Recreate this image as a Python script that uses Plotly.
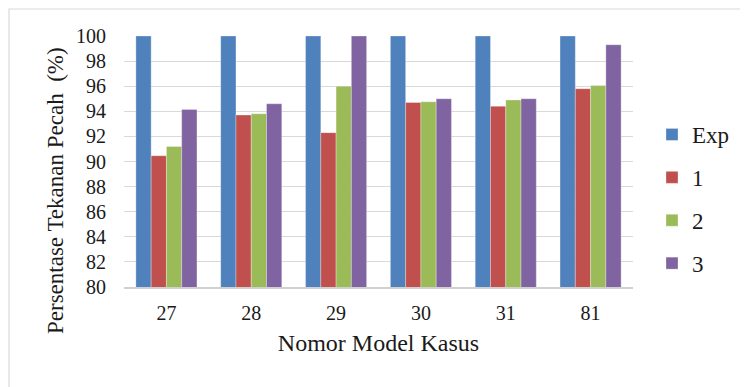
import plotly.graph_objects as go

categories = ["27", "28", "29", "30", "31", "81"]
series_names = ["Exp", "1", "2", "3"]
exp_vals = [100, 100, 100, 100, 100, 100]
s1_vals = [90.46, 93.7, 92.3, 94.7, 94.4, 95.8]
s2_vals = [91.2, 93.8, 96.0, 94.76, 94.9, 96.05]
s3_vals = [94.15, 94.6, 100, 95.0, 95.0, 99.3]
colors = ["#4F81BD", "#C0504D", "#9BBB59", "#8064A2"]
y_ticks = list(range(80, 101, 2))
x_title = "Nomor Model Kasus"
y_title = "Persentase Tekanan Pecah  (%)"

FONT = "Liberation Serif, Times New Roman, serif"

fig = go.Figure()
for name, vals, col in zip(series_names, [exp_vals, s1_vals, s2_vals, s3_vals], colors):
    fig.add_trace(go.Bar(
        x=categories, y=vals, name=name, legendgroup=name,
        marker=dict(color=col, line=dict(color="rgba(255,255,255,0.5)", width=0.6)),
    ))

# page body has an 8px margin; figure coords = reference coords - 8
OFF = 8
W, H = 748 - OFF, 387 - OFF
L, R, T, B = 124 - OFF, 115, 36 - OFF, 100
pw = W - L - R
ph = H - T - B
y_bot = 287 - OFF  # plot bottom in figure coords

def px_x(x):
    return (x - OFF - L) / pw

def px_y(y):
    return (y_bot - (y - OFF)) / ph

fig.update_layout(
    width=W, height=H,
    margin=dict(l=L, r=R, t=T, b=B),
    paper_bgcolor="white", plot_bgcolor="white",
    barmode="group", bargap=0.28, bargroupgap=0,
    font=dict(family=FONT, color="#1a1a1a", size=20),
    showlegend=True,
    legend=dict(
        x=px_x(652), xanchor="left",
        y=px_y(199), yanchor="middle",
        font=dict(family=FONT, size=23, color="#1a1a1a"),
        tracegroupgap=10, traceorder="grouped",
        bgcolor="rgba(0,0,0,0)",
    ),
    xaxis=dict(
        type="category", automargin=False,
        title=dict(text=x_title, font=dict(family=FONT, size=24), standoff=11),
        tickfont=dict(family=FONT, size=20),
        showline=True, linecolor="#D0D0D0", linewidth=1.5,
        ticks="outside", ticklen=7, tickcolor="rgba(0,0,0,0)", showgrid=False,
    ),
    yaxis=dict(
        range=[80, 100], tickvals=y_ticks, automargin=False,
        tickfont=dict(family=FONT, size=20),
        showgrid=True, gridcolor="#D9D9D9", gridwidth=1.3,
        zeroline=False, showline=False,
        ticks="outside", ticklen=13, tickcolor="rgba(0,0,0,0)",
    ),
    annotations=[dict(
        text=y_title, textangle=-90, showarrow=False,
        xref="paper", yref="paper",
        x=px_x(55), y=px_y(191), xanchor="center", yanchor="middle",
        font=dict(family=FONT, size=23, color="#1a1a1a"),
    )],
    shapes=[dict(
        type="rect", xref="paper", yref="paper",
        x0=px_x(9), x1=px_x(780),
        y0=px_y(420), y1=px_y(9),
        line=dict(color="#D9D9D9", width=1.2), fillcolor="rgba(0,0,0,0)", layer="below",
    )],
)

fig.write_html("out.html")
